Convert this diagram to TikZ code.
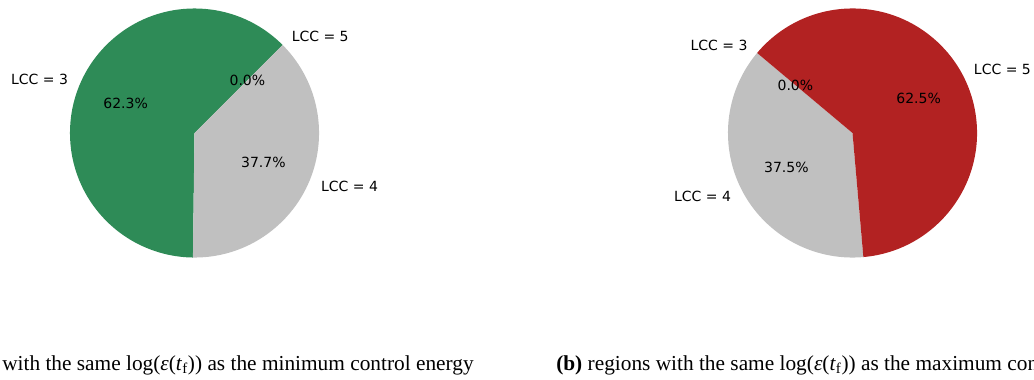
\documentclass[tikz,border=0pt]{standalone}
\usepackage{fontspec}
\setmainfont{Liberation Serif}
\newfontfamily\dejavu{DejaVu Sans}
\definecolor{pgreen}{HTML}{2E8B57}
\definecolor{pred}{HTML}{B22222}
\definecolor{pgray}{HTML}{C0C0C0}
\begin{document}
\begin{tikzpicture}[x=0.75pt,y=0.75pt,
  lbl/.style={font=\dejavu\fontsize{10.5pt}{12pt}\selectfont, inner sep=0pt},
  captxt/.style={font=\fontsize{16pt}{19pt}\selectfont, inner sep=0pt}]
\useasboundingbox (0,0) rectangle (1034,379);
\clip (0,0) rectangle (1034,379);
\def\R{93.4pt}
\coordinate (cA) at (194.5,246);
\coordinate (cB) at (852.5,246);
% left pie
\fill[pgreen] (cA) -- ++(45:\R) arc[start angle=45,end angle=269.28,radius=\R] -- cycle;
\fill[pgray] (cA) -- ++(269.28:\R) arc[start angle=269.28,end angle=405,radius=\R] -- cycle;
\node[lbl,anchor=east] (a3) at (68.2,299.3) {LCC = 3};
\node[lbl] (a3p) at (125.6,275.1) {62.3\%};
\node[lbl,anchor=west] (a4) at (320.9,192.8) {LCC = 4};
\node[lbl] (a4p) at (263.4,217) {37.7\%};
\node[lbl,anchor=west] (a5) at (291.5,343) {LCC = 5};
\node[lbl] (a5p) at (247.4,298.9) {0.0\%};
% right pie
\fill[pgray] (cB) -- ++(140:\R) arc[start angle=140,end angle=275,radius=\R] -- cycle;
\fill[pred] (cB) -- ++(275:\R) arc[start angle=275,end angle=500,radius=\R] -- cycle;
\node[lbl,anchor=east] (b3) at (747.8,333.8) {LCC = 3};
\node[lbl] (b3p) at (795.4,293.9) {0.0\%};
\node[lbl,anchor=east] (b4) at (731.3,182.9) {LCC = 4};
\node[lbl] (b4p) at (786.4,211.6) {37.5\%};
\node[lbl,anchor=west] (b5) at (973.7,309.1) {LCC = 5};
\node[lbl] (b5p) at (918.6,280.4) {62.5\%};
% captions
\node[captxt,anchor=base west] (capA) at (2,9) {with the same log(\textit{ε}(\textit{t}\textsubscript{f})) as the minimum control energy};
\node[captxt,anchor=base west] (capB) at (556,9) {\textbf{(b)} regions with the same log(\textit{ε}(\textit{t}\textsubscript{f})) as the maximum control energy};
\end{tikzpicture}
\end{document}
